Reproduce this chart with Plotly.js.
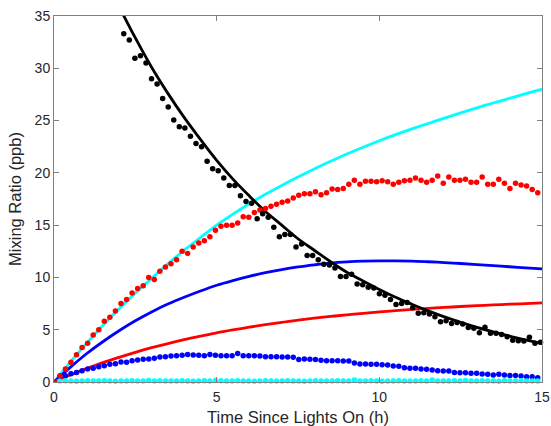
<!DOCTYPE html>
<html>
<head>
<meta charset="utf-8">
<script src="https://cdn.plot.ly/plotly-3.0.1.min.js"></script>
<style>html,body{margin:0;padding:0;background:#fff;}#chart{width:551px;height:426px;}</style>
</head>
<body>
<div id="chart"></div>
<script>
// Measurement times (h) for red, blue and cyan dots
var tObs = [0.180,0.351,0.522,0.692,0.863,1.034,1.205,1.376,1.546,1.717,1.888,2.059,2.230,2.400,2.571,2.742,2.913,3.084,3.254,3.425,3.596,3.767,3.938,4.108,4.279,4.450,4.621,4.792,4.962,5.133,5.304,5.475,5.646,5.816,5.987,6.158,6.329,6.500,6.670,6.841,7.012,7.183,7.354,7.524,7.695,7.866,8.037,8.208,8.378,8.549,8.720,8.891,9.062,9.232,9.403,9.574,9.745,9.916,10.086,10.257,10.428,10.599,10.770,10.940,11.111,11.282,11.453,11.624,11.794,11.965,12.136,12.307,12.478,12.648,12.819,12.990,13.161,13.332,13.502,13.673,13.844,14.015,14.186,14.356,14.527,14.698,14.869];
var redObs = [0.6,1.24,1.9,2.6,3.3,3.7,4.5,5.0,5.8,6.2,6.8,7.5,7.9,8.5,8.95,9.2,10.0,9.8,10.6,11.0,11.3,11.7,12.5,12.3,12.9,13.3,13.5,13.9,14.5,14.9,15.0,15.0,15.2,15.8,15.75,16.2,16.45,16.6,16.8,17.0,17.2,17.3,17.6,17.85,18.0,18.0,18.2,17.9,18.1,18.45,18.4,18.5,18.9,19.3,18.9,19.2,19.2,19.15,19.25,19.15,18.9,19.1,19.25,19.3,19.5,19.3,19.1,19.3,19.7,19.0,19.6,19.3,19.3,19.4,19.1,19.1,19.6,18.9,18.9,19.4,19.0,18.5,19.0,18.85,18.75,18.4,18.1];
var blueObs = [0.5,0.6,0.8,0.92,1.08,1.25,1.31,1.45,1.56,1.7,1.74,1.92,1.9,2.04,2.1,2.17,2.2,2.27,2.38,2.42,2.48,2.52,2.55,2.62,2.58,2.56,2.52,2.62,2.56,2.52,2.52,2.5,2.72,2.5,2.5,2.5,2.48,2.42,2.42,2.42,2.4,2.38,2.36,2.14,2.2,2.17,2.14,2.07,2.04,2.04,2.04,2.02,2.02,1.82,1.72,1.72,1.7,1.7,1.66,1.62,1.52,1.5,1.37,1.31,1.31,1.24,1.21,1.15,1.08,1.05,1.05,0.92,0.89,0.89,0.83,0.83,0.77,0.73,0.67,0.73,0.67,0.61,0.61,0.57,0.51,0.51,0.41];
var cyanObs = [0.1,0.12,0.1,0.08,0.1,0.12,0.1,0.1,0.12,0.1,0.08,0.1,0.1,0.12,0.1,0.1,0.14,0.1,0.12,0.1,0.1,0.1,0.12,0.1,0.08,0.1,0.12,0.1,0.14,0.12,0.1,0.1,0.12,0.1,0.1,0.08,0.1,0.12,0.1,0.1,0.1,0.12,0.1,0.1,0.08,0.1,0.12,0.1,0.1,0.1,0.12,0.1,0.1,0.2,0.1,0.1,0.12,0.1,0.08,0.1,0.1,0.12,0.1,0.1,0.1,0.12,0.1,0.2,0.1,0.1,0.1,0.12,0.1,0.14,0.1,0.1,0.12,0.1,0.1,0.08,0.12,0.1,0.1,0.12,0.1,0.1,0.1];
// Black dots are sampled half a step later
var tBlack = [2.144,2.315,2.486,2.657,2.828,2.998,3.169,3.340,3.511,3.681,3.852,4.023,4.194,4.365,4.535,4.706,4.877,5.048,5.219,5.389,5.560,5.731,5.902,6.073,6.243,6.414,6.585,6.756,6.927,7.097,7.268,7.439,7.610,7.781,7.951,8.122,8.293,8.464,8.635,8.805,8.976,9.147,9.318,9.489,9.659,9.830,10.001,10.172,10.343,10.513,10.684,10.855,11.026,11.197,11.367,11.538,11.709,11.880,12.051,12.221,12.392,12.563,12.734,12.905,13.075,13.246,13.417,13.588,13.759,13.929,14.100,14.271,14.442,14.613,14.783,14.954];
var blackObs = [33.3,32.7,30.95,31.2,30.5,29.0,28.5,27.1,26.3,25.05,24.4,24.3,23.5,22.8,22.5,21.1,20.4,20.2,19.5,18.8,18.8,17.8,17.25,17.1,15.6,16.1,15.75,14.8,13.9,14.1,14.1,12.9,13.2,12.1,12.1,11.7,11.25,11.2,10.9,10.1,10.1,10.3,9.38,9.3,9.05,9.0,8.45,8.3,7.9,7.4,7.5,7.6,7.1,6.57,6.63,6.5,6.25,5.77,5.86,5.6,5.7,5.55,5.2,5.13,4.7,5.23,4.65,4.65,4.55,4.33,4.0,3.95,3.92,4.27,3.7,3.8];

// Model curves (h, ppb)
var tModel = [0,0.5,1,1.5,2,2.5,3,3.5,4,4.5,5,5.5,6,6.5,7,7.5,8,8.5,9,9.5,10,10.5,11,11.5,12,12.5,13,13.5,14,14.5,15];
var cyanModel = [0,1.9,3.7,5.4,7.0,8.5,9.9,11.3,12.6,13.8,15.0,16.05,17.05,17.95,18.8,19.6,20.37,21.1,21.8,22.45,23.07,23.65,24.2,24.72,25.23,25.73,26.22,26.68,27.13,27.57,28.0];
var blueModel = [0,1.4,2.7,3.85,4.9,5.85,6.7,7.45,8.1,8.7,9.25,9.7,10.1,10.45,10.75,11.0,11.2,11.37,11.48,11.55,11.58,11.58,11.55,11.5,11.42,11.33,11.23,11.12,11.02,10.92,10.82];
var redModel = [0,0.67,1.28,1.85,2.36,2.84,3.28,3.68,4.05,4.38,4.70,4.98,5.24,5.48,5.71,5.91,6.10,6.27,6.42,6.57,6.70,6.82,6.94,7.04,7.13,7.22,7.30,7.37,7.44,7.50,7.56];
var tBlackModel = [2,2.5,3,3.5,4,4.5,5,5.5,6,6.5,7,7.5,8,8.5,9,9.5,10,10.5,11,11.5,12,12.5,13,13.5,14,14.5,15];
var blackModel = [35.9,32.9,30.1,27.6,25.3,23.2,21.2,19.4,17.8,16.3,15.0,13.7,12.6,11.5,10.5,9.66,8.85,8.10,7.43,6.80,6.23,5.71,5.23,4.80,4.39,4.03,3.69];

var xTicks = [0,5,10,15];
var yTicks = [0,5,10,15,20,25,30,35];

function line(x, y, c) {
  return {x: x, y: y, type: 'scatter', mode: 'lines', line: {color: c, width: 2.8, shape: 'spline', smoothing: 1}, hoverinfo: 'skip', showlegend: false};
}
function dots(x, y, c) {
  return {x: x, y: y, type: 'scatter', mode: 'markers', marker: {color: c, size: 5.5}, cliponaxis: false, hoverinfo: 'skip', showlegend: false};
}

var data = [
  line(tModel, cyanModel, '#00FFFF'),
  line(tModel, blueModel, '#0000FF'),
  line(tModel, redModel, '#FF0000'),
  line(tBlackModel, blackModel, '#000000'),
  dots(tObs, blueObs, '#0000FF'),
  dots(tObs, cyanObs, '#00FFFF'),
  dots(tObs, redObs, '#FF0000'),
  dots(tBlack, blackObs, '#000000')
];

var axisCommon = {
  showline: true, linecolor: '#808080', linewidth: 1, mirror: 'ticks',
  ticks: 'inside', ticklen: 5, tickwidth: 1, tickcolor: '#808080',
  showgrid: false, zeroline: false,
  tickfont: {family: 'Liberation Sans, Arial, sans-serif', size: 14, color: '#262626'}
};

var layout = {
  width: 551, height: 426,
  margin: {l: 54, r: 9, t: 16, b: 44},
  paper_bgcolor: '#ffffff', plot_bgcolor: '#ffffff',
  font: {family: 'Liberation Sans, Arial, sans-serif', color: '#262626'},
  xaxis: Object.assign({}, axisCommon, {
    range: [0, 15], tickvals: xTicks, ticktext: xTicks.map(String),
    ticklabelstandoff: 2,
    title: {text: 'Time Since Lights On (h)', font: {size: 16.5, color: '#262626'}, standoff: 9}
  }),
  yaxis: Object.assign({}, axisCommon, {
    range: [0, 35], tickvals: yTicks, ticktext: yTicks.map(String),
    title: {text: 'Mixing Ratio (ppb)', font: {size: 16.5, color: '#262626'}, standoff: 8}
  })
};

Plotly.newPlot('chart', data, layout, {displayModeBar: false, staticPlot: true});
</script>
</body>
</html>
